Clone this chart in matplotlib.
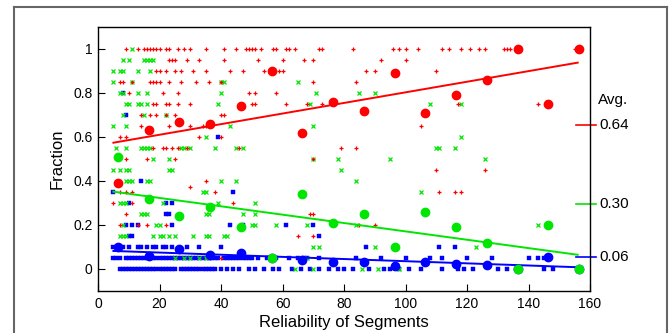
import numpy as np
import matplotlib
matplotlib.use("Agg")
import matplotlib.pyplot as plt
from matplotlib.lines import Line2D

plt.rcParams["font.family"] = ["Liberation Sans", "DejaVu Sans"]

# ---- binned means (big circles) ----
bin_x = [6.5, 16.5, 26.5, 36.5, 46.5, 56.5, 66.5, 76.5, 86.5, 96.5, 106.5, 116.5, 126.5, 136.5, 146.5, 156.5]
red_mean = [0.39, 0.63, 0.67, 0.66, 0.74, 0.90, 0.62, 0.76, 0.72, 0.89, 0.71, 0.79, 0.86, 1.00, 0.75, 1.00]
green_mean = [0.51, 0.32, 0.24, 0.28, 0.19, 0.05, 0.34, 0.21, 0.25, 0.10, 0.26, 0.19, 0.12, 0.00, 0.20, 0.00]
blue_mean = [0.10, 0.06, 0.09, 0.064, 0.071, 0.05, 0.042, 0.032, 0.032, 0.014, 0.032, 0.023, 0.02, 0.00, 0.053, 0.00]

# ---- linear fits (intercept, slope) ----
red_fit = (0.562, 0.00241)
green_fit = (0.361, -0.0019)
blue_fit = (0.0845, -0.00049)
fit_range = (5, 156)

# ---- averages shown on the right ----
avg_labels = ["0.64", "0.30", "0.06"]
avg_pos = [0.655, 0.295, 0.053]

# ---- individual points: (fraction, [segment reliabilities]) ----
red_rows = [
    (1.00, [9, 13, 15, 16, 17, 18, 19, 20, 22, 23, 26, 28, 30, 35, 41, 45, 48, 49, 50, 51, 53, 57, 58, 61,
            62, 64, 72, 73, 83, 96, 98, 100, 104, 112, 114, 118, 121, 124, 126, 132, 133, 134, 155]),
    (0.95, [23, 24, 25, 29, 33, 41, 52, 60, 67, 70, 92, 100]),
    (0.90, [19, 20, 22, 25, 27, 31, 35, 43, 47, 54, 59, 60, 87, 90, 110]),
    (0.85, [7, 8, 11, 17, 18, 19, 20, 23, 27, 32, 36, 40, 70, 84]),
    (0.80, [10, 21, 26, 49, 51, 58]),
    (0.75, [18, 19, 22, 23, 26, 30, 50, 51, 61, 68, 73, 117, 143]),
    (0.70, [14, 17, 19, 22, 25, 40, 41]),
    (0.65, [14, 23, 30, 34, 35, 105]),
    (0.60, [7, 9, 33, 40]),
    (0.55, [18, 21, 22, 24, 26, 29, 46, 79, 84]),
    (0.50, [9, 16, 25, 70]),
    (0.45, [110, 126]),
    (0.40, [35]),
    (0.375, [30]),
    (0.35, [7, 9, 11, 38, 111, 116, 118]),
    (0.30, [5, 11, 44]),
    (0.25, [9, 69, 70]),
    (0.20, [7, 13, 16, 22, 85, 90]),
    (0.15, [65, 70]),
    (0.05, [40]),
]
green_rows = [
    (1.00, [11]),
    (0.95, [8, 10, 15, 16, 17, 18]),
    (0.90, [5, 7, 8, 13, 17]),
    (0.85, [5, 11, 40, 41, 65]),
    (0.80, [7, 8, 13, 16, 40, 71, 85, 90]),
    (0.75, [9, 10, 13, 14, 16, 39, 69, 108, 118]),
    (0.70, [8, 15, 22]),
    (0.65, [5, 9, 43, 70]),
    (0.60, [35, 118]),
    (0.55, [6, 9, 14, 15, 16, 17, 27, 28, 30, 38, 45, 47, 110, 111, 116]),
    (0.50, [18, 23, 70, 78, 95, 126]),
    (0.45, [5, 7, 9, 10, 23, 24, 79]),
    (0.40, [9, 10, 11, 16, 17, 40, 45, 84]),
    (0.35, [34, 35, 105]),
    (0.30, [7, 8, 9, 21, 39, 51]),
    (0.25, [14, 15, 16, 35, 36, 47, 51]),
    (0.20, [8, 19, 20, 50, 51, 58, 68, 84, 143]),
    (0.15, [7, 8, 9, 18, 20, 21, 23, 25, 31, 35, 36, 41, 42]),
    (0.10, [70, 72, 90, 123]),
    (0.05, [25, 28, 30, 33, 35, 66, 68]),
    (0.00, [64, 70, 86, 91, 98]),
]
blue_rows = [
    (0.80, [8]),
    (0.70, [9]),
    (0.60, [39]),
    (0.40, [14]),
    (0.35, [5, 44]),
    (0.30, [10, 22, 24]),
    (0.25, [22, 23]),
    (0.20, [9, 11, 13, 24, 43, 47, 61, 70]),
    (0.15, [10, 11, 72]),
    (0.10, [5, 8, 10, 13, 14, 16, 18, 19, 21, 22, 24, 29, 33, 40, 87, 111, 116]),
    (0.05, [5, 6, 7, 9, 10, 11, 12, 13, 14, 15, 16, 17, 18, 19, 20, 21, 22, 23, 24, 25, 26, 27, 28, 29,
            30, 31, 32, 33, 34, 35, 36, 37, 38, 39, 41, 42, 43, 44, 45, 46, 47, 48, 49, 50, 52, 55, 58,
            62, 65, 67, 68, 72, 84, 92, 100, 108, 112, 120, 128, 140, 143, 145]),
    (0.00, [7, 8, 9, 10, 11, 12, 13, 14, 15, 16, 17, 18, 19, 20, 21, 22, 23, 24, 25, 27, 28, 29, 30, 31,
            32, 33, 34, 35, 36, 37, 38, 40, 42, 44, 46, 49, 51, 54, 57, 59, 63, 66, 69, 72, 75, 78, 80,
            83, 88, 93, 95, 98, 101, 105, 112, 117, 119, 122, 130, 133, 136, 145, 148]),
]

RED, GREEN, BLUE = "#ff0000", "#00e600", "#0000ff"


def rows_to_xy(rows):
    xs, ys = [], []
    for yv, xl in rows:
        xs += xl
        ys += [yv] * len(xl)
    return np.array(xs), np.array(ys)


fig = plt.figure(figsize=(6.69, 3.33), dpi=100)
ax = fig.add_axes([98 / 669, 1 - 291 / 333, (590 - 98) / 669, (291 - 27) / 333])

# small points
bx, by = rows_to_xy(blue_rows)
gx, gy = rows_to_xy(green_rows)
rx, ry = rows_to_xy(red_rows)
ax.plot(bx, by, ls="none", marker="s", ms=2.4, mec=BLUE, mfc=BLUE, mew=0.3)
ax.plot(gx, gy, ls="none", marker="x", ms=2.6, mec=GREEN, mew=0.9)
ax.plot(rx, ry, ls="none", marker="+", ms=3.0, mec=RED, mew=0.9)

# fit lines + binned means
xf = np.array(fit_range)
for fit, means, col in [(blue_fit, blue_mean, BLUE), (green_fit, green_mean, GREEN), (red_fit, red_mean, RED)]:
    ax.plot(xf, fit[0] + fit[1] * xf, color=col, lw=1.4)
    ax.plot(bin_x, means, ls="none", marker="o", ms=6, color=col)

ax.set_xlim(0, 160)
ax.set_ylim(-0.1, 1.1)
ax.set_xticks(np.arange(0, 161, 20))
ax.set_yticks([0, 0.2, 0.4, 0.6, 0.8, 1.0])
ax.set_yticklabels(["0", "0.2", "0.4", "0.6", "0.8", "1"])
ax.tick_params(direction="in", length=5, width=0.8, labelsize=10, pad=4)
for s in ax.spines.values():
    s.set_linewidth(1.0)
ax.set_xlabel("Reliability of Segments", fontsize=12, labelpad=3)
ax.set_ylabel("Fraction", fontsize=12, labelpad=6)

# right-hand average markers
ax.text(162.5, 0.77, "Avg.", fontsize=11, va="center", ha="left", clip_on=False)
for lab, yv, col in zip(avg_labels, avg_pos, [RED, GREEN, BLUE]):
    ax.plot([155.5, 162], [yv, yv], color=col, lw=1.2, clip_on=False)
    ax.text(163, yv, lab, fontsize=11, va="center", ha="left", clip_on=False)

# outer frame (open at the bottom)
frame_col = "#666666"
fig.add_artist(Line2D([14 / 669, 14 / 669], [0, 1 - 7 / 333], color=frame_col, lw=1.5))
fig.add_artist(Line2D([14 / 669, 667 / 669], [1 - 7 / 333, 1 - 7 / 333], color=frame_col, lw=1.5))
fig.add_artist(Line2D([667 / 669, 667 / 669], [0, 1 - 7 / 333], color=frame_col, lw=1.5))

fig.savefig("out.png", dpi=100)
